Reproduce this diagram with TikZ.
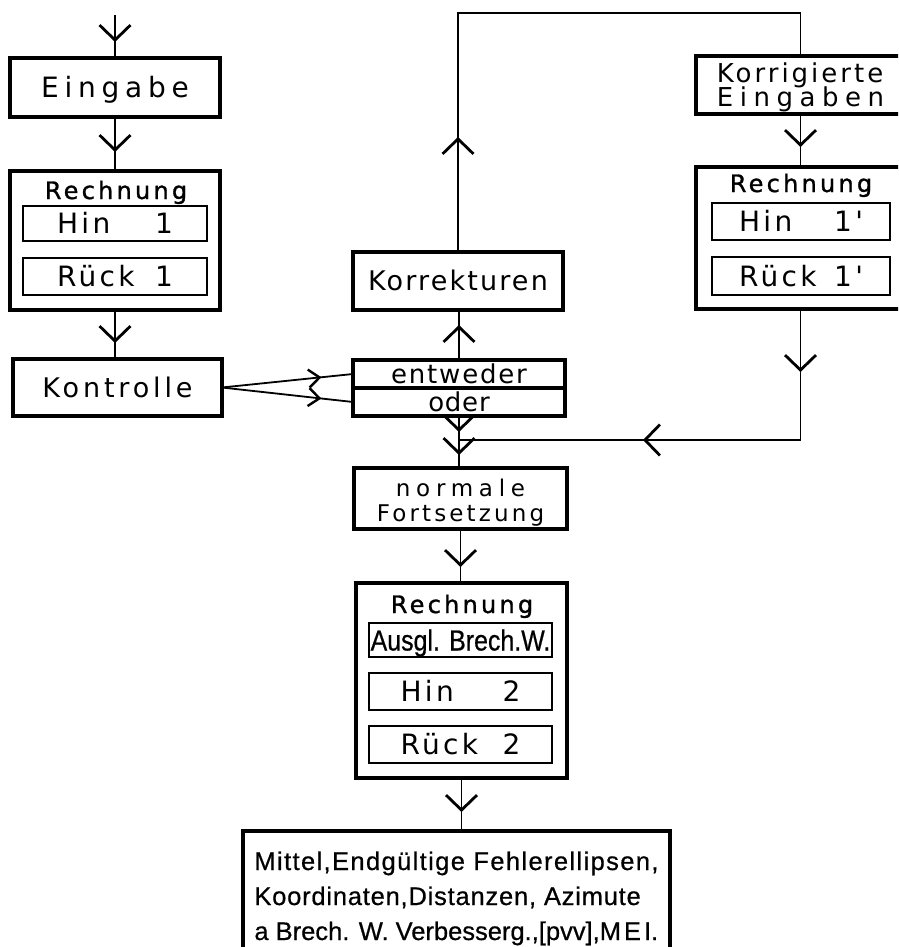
\documentclass[tikz,border=0pt]{standalone}
\usepackage{fontspec}
\newfontfamily\din{DejaVu Sans}
\newfontfamily\lib{Liberation Sans}
\usetikzlibrary{arrows.meta,decorations.markings}
\newcommand\trk[2]{{\addfontfeature{LetterSpace=#1}#2}}
\newcommand\stacklines[2]{\vtop{\baselineskip=#1\lineskiplimit=-100pt\lineskip=0pt #2}}
\tikzset{
  vtip/.tip={Straight Barb[length=15pt,width=31pt]},
  vtipsm/.tip={Straight Barb[length=11pt,width=18pt]},
  box/.style={draw,rectangle,line width=3.1pt,inner sep=0pt,outer sep=0pt},
  ibox/.style={draw,rectangle,line width=2.5pt,inner sep=0pt,outer sep=0pt},
  conn/.style={line width=1.8pt},
  tipat/.style={postaction={decorate,decoration={markings,mark=at position #1 with {\arrow[line width=2.8pt]{vtip}}}}},
  tipsmat/.style={postaction={decorate,decoration={markings,mark=at position #1 with {\arrow[line width=2.4pt]{vtipsm}}}}},
  capc/.style={text height=#1,text depth=0pt},
  titlefont/.style={font={\din\fontsize{24}{26}\selectfont\addfontfeature{FakeBold=1.2}}},
  f28/.style={font={\din\fontsize{28}{30}\selectfont}},
  f27/.style={font={\din\fontsize{27}{30}\selectfont}},
  f26/.style={font={\din\fontsize{26}{28}\selectfont}},
}
\begin{document}
\begin{tikzpicture}[x=1pt,y=-1pt]
\useasboundingbox (0,0) rectangle (898,947);
\clip (0,0) rectangle (898,947);

% ---------- left column ----------
\coordinate (in) at (115,15);
\node[box,minimum width=210,minimum height=59,f28,capc=20.4pt] (eing) at (115,87.5) {\trk{20.7}{Eingabe}};
\node[box,minimum width=210,minimum height=139] (rech1) at (115,240.5) {};
\node[anchor=base,titlefont] (t1) at (116,199) {\trk{13.5}{Rechnung}};
\node[ibox,minimum width=184,minimum height=35,f28,capc=20.4pt] (hin1) at (115,223.5) {\trk{12}{\makebox[116pt]{Hin\hfill 1}}};
\node[ibox,minimum width=184,minimum height=37,f28,capc=20.4pt] (rueck1) at (115,276.5) {\trk{12}{\makebox[116pt]{Rück\hfill 1}}};
\node[box,minimum width=209,minimum height=57,f27,capc=19.7pt] (kontr) at (117.5,387.5) {\trk{14.3}{Kontrolle}};

% ---------- middle column ----------
\node[box,minimum width=210,minimum height=58,f27,capc=19.7pt] (korr) at (458,281) {\trk{8}{Korrekturen}};
\node[box,minimum width=212,minimum height=28,f26,capc=19.8pt] (entw) at (459,374) {\trk{7}{entweder}};
\node[box,minimum width=212,minimum height=28,f26,capc=19.8pt] (oder) at (459,402) {\trk{3}{oder}};
\coordinate (join) at (459,440);
\node[box,minimum width=213,minimum height=61,font={\din\fontsize{23}{25}\selectfont},text height=20pt,text depth=25pt] (norm) at (460.5,498.5)
  {\stacklines{25pt}{\hbox to 200pt{\hfil\trk{25}{normale}\hfil}\hbox to 200pt{\hfil\trk{13.6}{Fortsetzung}\hfil}}};
\node[box,minimum width=211,minimum height=195] (rech2) at (461.5,680.5) {};
\node[anchor=base,titlefont] (t2) at (462,613) {\trk{13.5}{Rechnung}};
\node[ibox,minimum width=183,minimum height=34,font={\lib\fontsize{29}{31}\selectfont\addfontfeature{FakeStretch=0.86,FakeBold=0.6}},capc=21pt] (ausgl) at (460.5,640) {Ausgl. Brech.W.};
\node[ibox,minimum width=183,minimum height=37,f28,capc=20.4pt] (hin2) at (460.5,691.5) {\trk{12}{\makebox[120pt]{Hin\hfill 2}}};
\node[ibox,minimum width=183,minimum height=37,f28,capc=20.4pt] (rueck2) at (460.5,744.5) {\trk{12}{\makebox[120pt]{Rück\hfill 2}}};
\node[box,minimum width=427,minimum height=129.5,font={\lib\fontsize{25.5}{35}\selectfont\addfontfeature{FakeBold=0.6}},text height=18.5pt,text depth=70pt] (final) at (456.5,895.75)
  {\stacklines{35pt}{\hbox{\trk{5.4}{Mittel,Endgültige Fehlerellipsen,}}\hbox{\trk{3.1}{Koordinaten,Distanzen, Azimute}}\hbox{a Brech. W. Verbesserg.,[pvv],M\kern3pt E\kern3pt I.}}};

% ---------- right column ----------
\coordinate (topR) at (800.5,13);
\node[box,minimum width=209,minimum height=58,font={\din\fontsize{26}{24}\selectfont},text height=18.5pt,text depth=24pt] (korrig) at (800.5,85)
  {\stacklines{24pt}{\hbox{\trk{11.5}{Korrigierte}}\hbox{\trk{25}{Eingaben}}}};
\node[box,minimum width=209,minimum height=142] (rech3) at (800.5,238) {};
\node[anchor=base,titlefont] (t3) at (801,192) {\trk{13.5}{Rechnung}};
\node[ibox,minimum width=178,minimum height=37,f28,capc=20.4pt] (hin1p) at (801,221.5) {\trk{12}{\makebox[124pt]{Hin\hfill 1'}}};
\node[ibox,minimum width=178,minimum height=38,f28,capc=20.4pt] (rueck1p) at (801,276) {\trk{12}{\makebox[124pt]{Rück\hfill 1'}}};

% ---------- connectors ----------
\draw[conn,tipat=27pt] (in) -- (eing.north);
\draw[conn,tipat=35pt] (eing.south) -- (rech1.north);
\draw[conn,tipat=33pt] (rech1.south) -- (rech1.south |- kontr.north);
\draw[conn,tipsmat=100pt] (kontr.east) -- (entw.west);
\draw[conn,tipsmat=100pt] (kontr.east) -- (oder.west);
\draw[conn,tipat=35pt] (entw.north) -- (entw.north |- korr.south);
\draw[conn,tipat=115pt] (korr.north) |- (topR) -- (korrig.north);
\draw[conn,tipat=33pt] (korrig.south) -- (rech3.north);
\draw[conn,tipat=63pt,tipat=288.5pt] (rech3.south) |- (join);
\draw[conn,tipat=16pt,tipat=39pt] (oder.south) -- (oder.south |- norm.north);
\draw[conn,tipat=38pt] (norm.south) -- (norm.south |- rech2.north);
\draw[conn,tipat=34pt] (rech2.south) -- (rech2.south |- final.north);
\end{tikzpicture}
\end{document}
